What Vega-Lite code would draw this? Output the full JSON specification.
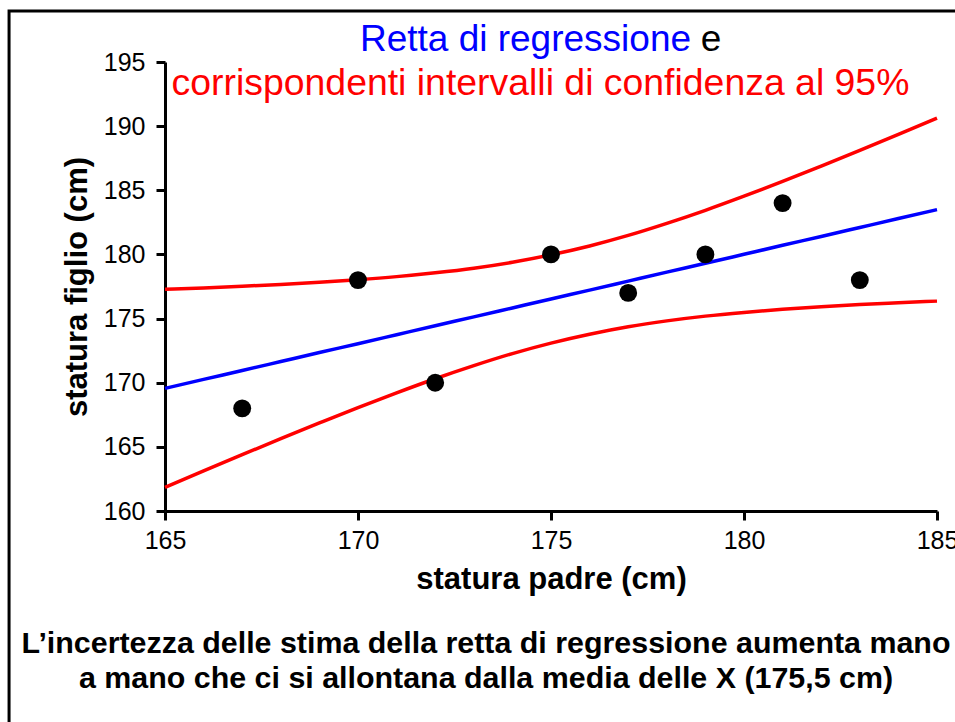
{
  "$schema": "https://vega.github.io/schema/vega-lite/v6.json",
  "width": 772,
  "height": 449,
  "autosize": {"type": "none"},
  "padding": {"left": 165, "top": 62, "right": 18, "bottom": 211},
  "background": "white",
  "config": {
    "view": {"stroke": null},
    "font": "Liberation Sans",
    "axis": {
      "domainColor": "black",
      "domainWidth": 3,
      "tickColor": "black",
      "tickWidth": 3,
      "tickSize": 9,
      "labelFont": "Liberation Sans",
      "labelFontSize": 25,
      "labelColor": "black",
      "labelPadding": 8,
      "titleFont": "Liberation Sans",
      "titleFontSize": 31,
      "titleFontWeight": "bold",
      "titleColor": "black",
      "grid": false,
      "labelFlush": false,
      "labelOverlap": false
    }
  },
  "datasets": {
    "points": [
      {"padre": 167, "figlio": 168},
      {"padre": 170, "figlio": 178},
      {"padre": 172, "figlio": 170},
      {"padre": 175, "figlio": 180},
      {"padre": 177, "figlio": 177},
      {"padre": 179, "figlio": 180},
      {"padre": 181, "figlio": 184},
      {"padre": 183, "figlio": 178}
    ],
    "band": [
      {"padre": 165, "fit": 169.56, "lower": 161.84, "upper": 177.28},
      {"padre": 166, "fit": 170.26, "lower": 163.12, "upper": 177.39},
      {"padre": 167, "fit": 170.95, "lower": 164.39, "upper": 177.52},
      {"padre": 168, "fit": 171.65, "lower": 165.64, "upper": 177.66},
      {"padre": 169, "fit": 172.35, "lower": 166.86, "upper": 177.83},
      {"padre": 170, "fit": 173.04, "lower": 168.06, "upper": 178.03},
      {"padre": 171, "fit": 173.74, "lower": 169.21, "upper": 178.27},
      {"padre": 172, "fit": 174.44, "lower": 170.31, "upper": 178.57},
      {"padre": 173, "fit": 175.13, "lower": 171.33, "upper": 178.93},
      {"padre": 174, "fit": 175.83, "lower": 172.27, "upper": 179.39},
      {"padre": 175, "fit": 176.53, "lower": 173.09, "upper": 179.97},
      {"padre": 176, "fit": 177.22, "lower": 173.78, "upper": 180.66},
      {"padre": 177, "fit": 177.92, "lower": 174.36, "upper": 181.48},
      {"padre": 178, "fit": 178.62, "lower": 174.82, "upper": 182.42},
      {"padre": 179, "fit": 179.31, "lower": 175.19, "upper": 183.44},
      {"padre": 180, "fit": 180.01, "lower": 175.48, "upper": 184.54},
      {"padre": 181, "fit": 180.71, "lower": 175.72, "upper": 185.69},
      {"padre": 182, "fit": 181.40, "lower": 175.92, "upper": 186.89},
      {"padre": 183, "fit": 182.10, "lower": 176.09, "upper": 188.11},
      {"padre": 184, "fit": 182.80, "lower": 176.23, "upper": 189.36},
      {"padre": 185, "fit": 183.49, "lower": 176.36, "upper": 190.63}
    ]
  },
  "layer": [
    {
      "data": {"values": [{}]},
      "mark": {"type": "rect", "filled": false, "stroke": "black", "strokeWidth": 3},
      "encoding": {
        "x": {"datum": 160.96, "type": "quantitative", "scale": {"domain": [165, 185], "nice": false, "zero": false}},
        "x2": {"datum": 195},
        "y": {"datum": 198.97, "type": "quantitative", "scale": {"domain": [160, 195], "nice": false, "zero": false}},
        "y2": {"datum": 130}
      }
    },
    {
      "data": {"name": "band"},
      "transform": [{"fold": ["fit", "lower", "upper"], "as": ["series", "figlio"]}],
      "mark": {"type": "line", "strokeWidth": 3.5, "interpolate": "monotone"},
      "encoding": {
        "x": {"field": "padre", "type": "quantitative", "scale": {"domain": [165, 185], "nice": false, "zero": false}, "axis": {"title": "statura padre (cm)", "values": [165, 170, 175, 180, 185], "titlePadding": 11}},
        "y": {"field": "figlio", "type": "quantitative", "scale": {"domain": [160, 195], "nice": false, "zero": false}, "axis": {"title": "statura figlio (cm)", "values": [160, 165, 170, 175, 180, 185, 190, 195], "titlePadding": 10, "labelPadding": 11}},
        "color": {"field": "series", "type": "nominal", "scale": {"domain": ["fit", "lower", "upper"], "range": ["blue", "red", "red"]}, "legend": null}
      }
    },
    {
      "data": {"name": "points"},
      "mark": {"type": "circle", "size": 320, "color": "black", "opacity": 1},
      "encoding": {
        "x": {"field": "padre", "type": "quantitative", "axis": {"title": "statura padre (cm)", "values": [165, 170, 175, 180, 185], "titlePadding": 11}},
        "y": {"field": "figlio", "type": "quantitative", "axis": {"title": "statura figlio (cm)", "values": [160, 165, 170, 175, 180, 185, 190, 195], "titlePadding": 10, "labelPadding": 11}}
      }
    },
    {
      "data": {"values": [{}]},
      "mark": {"type": "text", "text": "Retta di regressione", "align": "left", "baseline": "alphabetic", "fontSize": 37, "font": "Liberation Sans", "color": "blue"},
      "encoding": {
        "x": {"datum": 170.05, "type": "quantitative"},
        "y": {"datum": 195.88, "type": "quantitative"}
      }
    },
    {
      "data": {"values": [{}]},
      "mark": {"type": "text", "text": "e", "align": "left", "baseline": "alphabetic", "fontSize": 37, "font": "Liberation Sans", "color": "black"},
      "encoding": {
        "x": {"datum": 178.88, "type": "quantitative"},
        "y": {"datum": 195.88, "type": "quantitative"}
      }
    },
    {
      "data": {"values": [{}]},
      "mark": {"type": "text", "text": "corrispondenti intervalli di confidenza al 95%", "align": "left", "baseline": "alphabetic", "fontSize": 37.4, "font": "Liberation Sans", "color": "red"},
      "encoding": {
        "x": {"datum": 165.17, "type": "quantitative"},
        "y": {"datum": 192.43, "type": "quantitative"}
      }
    },
    {
      "data": {"values": [{}]},
      "mark": {"type": "text", "text": "L’incertezza delle stima della retta di regressione aumenta mano", "align": "center", "baseline": "alphabetic", "fontSize": 30.4, "fontWeight": "bold", "font": "Liberation Sans", "color": "black"},
      "encoding": {
        "x": {"datum": 173.316, "type": "quantitative"},
        "y": {"datum": 148.91, "type": "quantitative"}
      }
    },
    {
      "data": {"values": [{}]},
      "mark": {"type": "text", "text": "a mano che ci si allontana dalla media delle X (175,5 cm)", "align": "center", "baseline": "alphabetic", "fontSize": 30.4, "fontWeight": "bold", "font": "Liberation Sans", "color": "black"},
      "encoding": {
        "x": {"datum": 173.316, "type": "quantitative"},
        "y": {"datum": 146.21, "type": "quantitative"}
      }
    }
  ]
}
